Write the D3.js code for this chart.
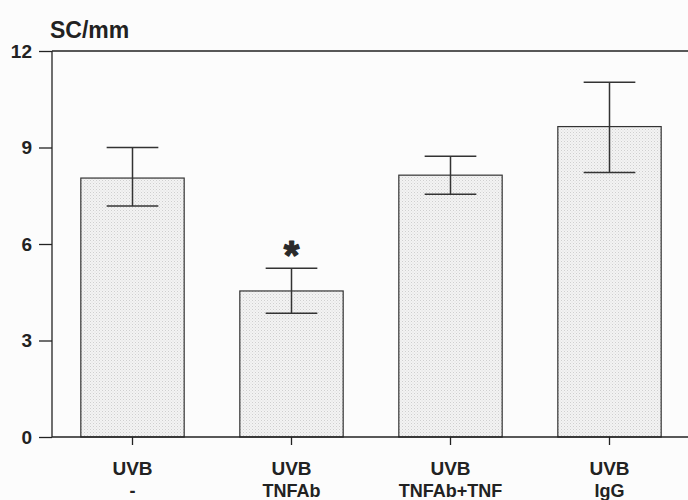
<!DOCTYPE html>
<html>
<head>
<meta charset="utf-8">
<script src="https://cdn.jsdelivr.net/npm/d3@7"></script>
<style>
  html, body { margin: 0; padding: 0; background: #fcfcfc; }
  svg { display: block; }
</style>
</head>
<body>
<svg id="chart" width="688" height="500"></svg>
<script>
// ---- data ----
const categories = ["UVB\n-", "UVB\nTNFAb", "UVB\nTNFAb+TNF", "UVB\nIgG"];
const means = [8.05, 4.54, 8.14, 9.65];
const upper = [9.0, 5.25, 8.73, 11.03];
const lower = [7.18, 3.85, 7.55, 8.22];
const significant = [false, true, false, false];
const yTicks = [0, 3, 6, 9, 12];
const yLabel = "SC/mm";

// ---- layout ----
const svg = d3.select("#chart");
const W = 688, H = 500;
const axisX = 52, yTop = 51, yBottom = 437;
const font = "'Liberation Sans', Arial, Helvetica, sans-serif";
const ink = "#222";

const x = d3.scaleBand().domain(categories).range([53, 689]).paddingInner(0.35).paddingOuter(0.175);
const y = d3.scaleLinear().domain([0, 12]).range([yBottom, yTop]);

// stipple pattern
const defs = svg.append("defs");
const pat = defs.append("pattern").attr("id", "stip").attr("patternUnits", "userSpaceOnUse")
  .attr("width", 3).attr("height", 3);
pat.append("rect").attr("width", 3).attr("height", 3).attr("fill", "#f3f3f3");
pat.append("rect").attr("x", 0).attr("y", 0).attr("width", 1).attr("height", 1).attr("fill", "#cfcfcf");
pat.append("rect").attr("x", 1.5).attr("y", 1.5).attr("width", 1).attr("height", 1).attr("fill", "#dedede");

// bars
svg.append("g").selectAll("rect").data(categories).join("rect")
  .attr("x", d => x(d))
  .attr("y", (d, i) => y(means[i]))
  .attr("width", x.bandwidth())
  .attr("height", (d, i) => y(0) - y(means[i]))
  .attr("fill", "url(#stip)")
  .attr("stroke", "#333")
  .attr("stroke-width", 1.2);

// error bars
const capW = x.bandwidth() / 2;
const eg = svg.append("g").attr("stroke", "#333").attr("stroke-width", 1.5);
categories.forEach((c, i) => {
  const cx = x(c) + x.bandwidth() / 2;
  eg.append("line").attr("x1", cx).attr("x2", cx).attr("y1", y(lower[i])).attr("y2", y(upper[i]));
  eg.append("line").attr("x1", cx - capW / 2).attr("x2", cx + capW / 2).attr("y1", y(upper[i])).attr("y2", y(upper[i]));
  eg.append("line").attr("x1", cx - capW / 2).attr("x2", cx + capW / 2).attr("y1", y(lower[i])).attr("y2", y(lower[i]));
});

// significance asterisks
categories.forEach((c, i) => {
  if (!significant[i]) return;
  const cx = x(c) + x.bandwidth() / 2;
  svg.append("text").attr("x", cx).attr("y", y(upper[i]) + 1)
    .attr("text-anchor", "middle")
    .style("font-family", font).style("font-weight", "bold").style("font-size", "40px")
    .attr("fill", "#2a2a2a").attr("stroke", "#2a2a2a").attr("stroke-width", 1.2)
    .attr("stroke-linejoin", "round").text("*");
});

// y axis
const yAxis = d3.axisLeft(y).tickValues(yTicks).tickSize(13).tickPadding(7).tickFormat(d3.format("d"));
const gy = svg.append("g").attr("transform", `translate(${axisX},0)`).call(yAxis);
gy.select(".domain").attr("stroke", ink).attr("stroke-width", 1.3).attr("d", `M0,${yTop}V${yBottom}`);
gy.selectAll(".tick line").attr("stroke", ink).attr("stroke-width", 1.3);
gy.selectAll(".tick text").style("font-family", font).style("font-weight", "bold")
  .style("font-size", "19px").attr("fill", ink);

// top border line
svg.append("line").attr("x1", axisX).attr("x2", W).attr("y1", y(12)).attr("y2", y(12))
  .attr("stroke", ink).attr("stroke-width", 1.3);

// x axis
const xAxis = d3.axisBottom(x).tickSize(8).tickSizeOuter(0).tickFormat("");
const gx = svg.append("g").attr("transform", `translate(0,${yBottom})`).call(xAxis);
gx.select(".domain").attr("stroke", ink).attr("stroke-width", 1.3).attr("d", `M${axisX},0H${W}`);
gx.selectAll(".tick line").attr("stroke", ink).attr("stroke-width", 1.3);
gx.selectAll(".tick").each(function(d) {
  const lines = d.split("\n");
  const t = d3.select(this).append("text").style("font-family", font).style("font-weight", "bold")
    .attr("fill", ink).attr("text-anchor", "middle");
  t.append("tspan").attr("x", 0).attr("y", 38).style("font-size", "19px").text(lines[0]);
  t.append("tspan").attr("x", 0).attr("y", 60).style("font-size", "18px").text(lines[1]);
});

// y label
svg.append("text").attr("x", 50).attr("y", 38)
  .style("font-family", font).style("font-weight", "bold").style("font-size", "23px")
  .attr("fill", ink).text(yLabel);
</script>
</body>
</html>
